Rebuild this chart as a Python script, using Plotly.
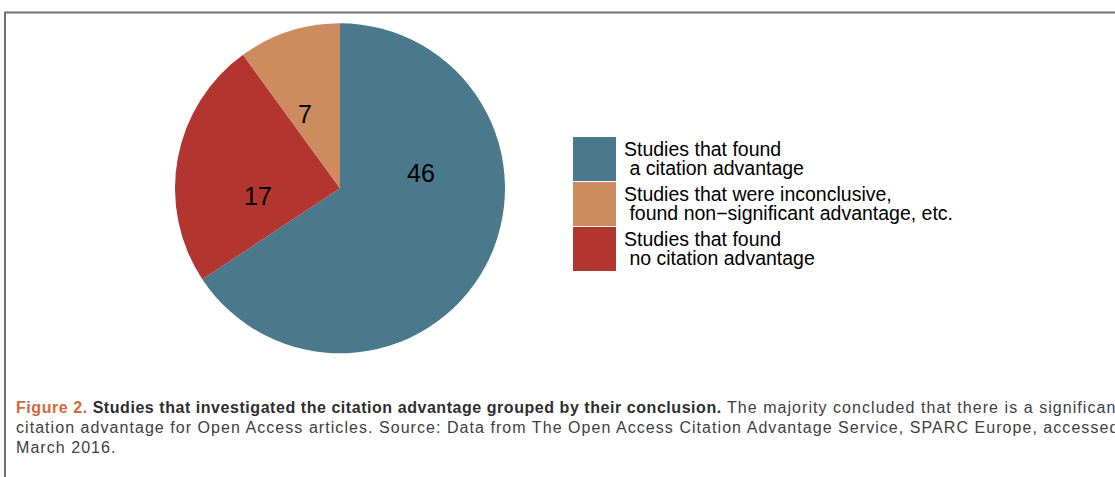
import math
import plotly.graph_objects as go

# ---- data ----
categories = [
    "Studies that found a citation advantage",
    "Studies that found no citation advantage",
    "Studies that were inconclusive, found non-significant advantage, etc.",
]
values = [46, 17, 7]
colors = ["#4a798b", "#b3352f", "#cd8c60"]
legend_order = [0, 2, 1]
legend_line1 = ["Studies that found", "Studies that were inconclusive,", "Studies that found"]
legend_line2 = [" a citation advantage", " found non\u2212significant advantage, etc.", " no citation advantage"]

caption_bold_lead = "Figure 2."
caption_bold = "Studies that investigated the citation advantage grouped by their conclusion."
caption_rest = "The majority concluded that there is a significant"
caption_line2 = "citation advantage for Open Access articles. Source: Data from The Open Access Citation Advantage Service, SPARC Europe, accessed"
caption_line3 = "March 2016."

# ---- layout constants (pixels) ----
W, H = 1115, 477
CX, CY, R = 340, 188.3, 165
LABEL_R = 0.5                       # label distance, fraction of radius
LABEL_ANGLE = [10.5, 185.4, 115.0]  # label direction (deg, counter-clockwise from 3 o'clock)


def px(x):
    return x / W


def py(y):
    return 1 - y / H


FONT = "Liberation Sans, Arial, sans-serif"

fig = go.Figure(
    go.Pie(
        labels=categories,
        values=values,
        marker=dict(colors=colors, line=dict(width=0)),
        sort=False,
        direction="clockwise",
        rotation=0,
        textinfo="none",
        hoverinfo="skip",
        domain=dict(x=[px(CX - R), px(CX + R)], y=[py(CY + R), py(CY - R)]),
    )
)

shapes = [
    dict(type="rect", xref="paper", yref="paper",
         x0=px(5), x1=px(1130), y0=py(495), y1=py(12.5),
         line=dict(color="#727272", width=2), fillcolor="rgba(0,0,0,0)", layer="below"),
]
annotations = []

# slice value labels
for v, ang in zip(values, LABEL_ANGLE):
    a = math.radians(ang)
    annotations.append(dict(
        xref="paper", yref="paper",
        x=px(CX + LABEL_R * R * math.cos(a)), y=py(CY - LABEL_R * R * math.sin(a)),
        text=str(v), showarrow=False, xanchor="center", yanchor="middle",
        font=dict(family=FONT, size=25, color="black")))

# legend
row_top = 137
row_h = 44
row_pitch = 45
for k, idx in enumerate(legend_order):
    top = row_top + k * row_pitch
    shapes.append(dict(type="rect", xref="paper", yref="paper",
                       x0=px(573), x1=px(616), y0=py(top + row_h), y1=py(top),
                       line=dict(width=0), fillcolor=colors[idx]))
    annotations.append(dict(xref="paper", yref="paper", x=px(622), y=py(top + 12),
                            text=legend_line1[k], showarrow=False, xanchor="left", yanchor="middle",
                            font=dict(family=FONT, size=19.5, color="black")))
    annotations.append(dict(xref="paper", yref="paper", x=px(622), y=py(top + 31),
                            text=legend_line2[k], showarrow=False, xanchor="left", yanchor="middle",
                            font=dict(family=FONT, size=19.5, color="black")))

# caption
line1 = (
    f'<span style="color:#d2693c;letter-spacing:0.55px"><b>{caption_bold_lead}</b></span>'
    f'<span style="color:#2e2e2e;letter-spacing:0.55px"><b> {caption_bold}</b></span>'
    f'<span style="letter-spacing:1.05px"> {caption_rest}</span>'
)
line2 = f'<span style="letter-spacing:1.05px">{caption_line2}</span>'
line3 = f'<span style="letter-spacing:1.05px">{caption_line3}</span>'
for line, yy in zip([line1, line2, line3], [407.7, 427.7, 447.7]):
    annotations.append(dict(xref="paper", yref="paper", x=px(14), y=py(yy),
                            text=line, showarrow=False, xanchor="left", yanchor="middle",
                            font=dict(family=FONT, size=16, color="#404040")))

fig.update_layout(
    width=W, height=H,
    margin=dict(l=0, r=0, t=0, b=0),
    paper_bgcolor="white",
    plot_bgcolor="white",
    showlegend=False,
    shapes=shapes,
    annotations=annotations,
    hovermode=False,
)

fig.write_html("out.html", config=dict(displayModeBar=False),
               post_script="document.body.style.margin='0px';")
